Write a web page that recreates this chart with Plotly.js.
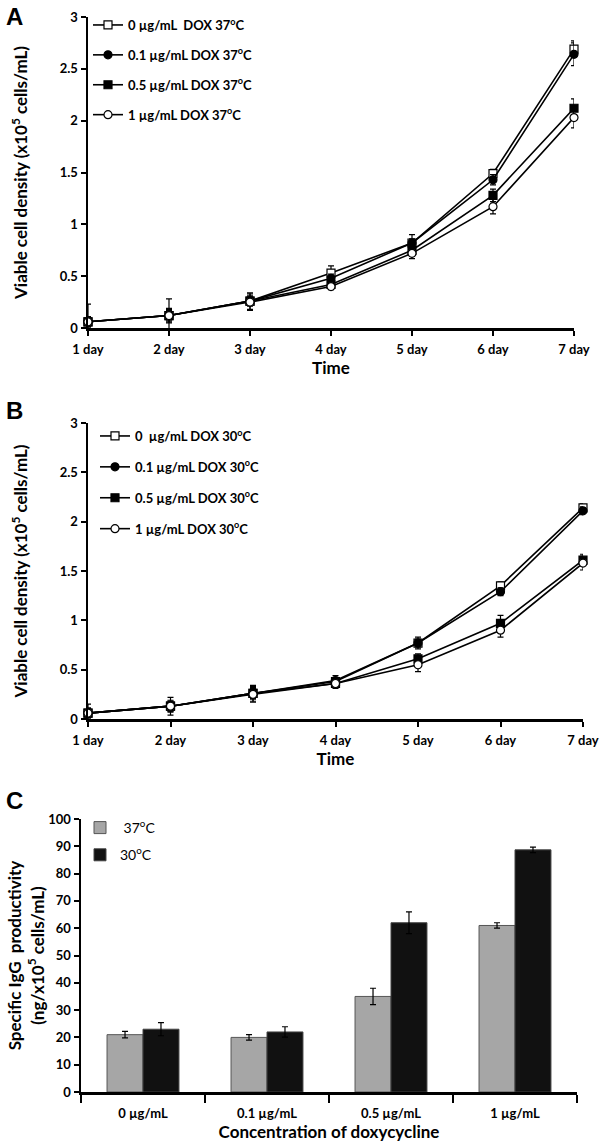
<!DOCTYPE html>
<html>
<head>
<meta charset="utf-8">
<script src="https://cdn.plot.ly/plotly-3.0.1.min.js"></script>
<style>html,body{margin:0;padding:0;background:#fff;}#chart{width:600px;height:1142px;}</style>
</head>
<body>
<div id="chart"></div>
<script>
// ---- data ----
const days = [1, 2, 3, 4, 5, 6, 7];
const dayLabels = ["1 day", "2 day", "3 day", "4 day", "5 day", "6 day", "7 day"];

// Panel A (37 °C)
const A_dox0   = [0.06, 0.12, 0.26, 0.53, 0.82, 1.49, 2.69];
const A_dox0_e = [0.17, 0.16, 0.08, 0.07, 0.08, 0.04, 0.08];
const A_dox01   = [0.06, 0.12, 0.26, 0.48, 0.82, 1.43, 2.64];
const A_dox01_e = [0.05, 0.05, 0.04, 0.04, 0.04, 0.05, 0.11];
const A_dox05   = [0.06, 0.12, 0.26, 0.42, 0.75, 1.28, 2.12];
const A_dox05_e = [0.05, 0.06, 0.05, 0.03, 0.08, 0.06, 0.09];
const A_dox1   = [0.06, 0.12, 0.25, 0.40, 0.72, 1.17, 2.03];
const A_dox1_e = [0.04, 0.07, 0.08, 0.03, 0.03, 0.07, 0.10];

// Panel B (30 °C)
const B_dox0   = [0.06, 0.13, 0.26, 0.38, 0.77, 1.35, 2.14];
const B_dox0_e = [0.09, 0.09, 0.08, 0.04, 0.06, 0.04, 0.04];
const B_dox01   = [0.06, 0.13, 0.26, 0.39, 0.77, 1.29, 2.11];
const B_dox01_e = [0.05, 0.05, 0.05, 0.05, 0.04, 0.04, 0.04];
const B_dox05   = [0.06, 0.13, 0.26, 0.36, 0.61, 0.97, 1.61];
const B_dox05_e = [0.04, 0.05, 0.06, 0.04, 0.05, 0.08, 0.06];
const B_dox1   = [0.06, 0.13, 0.25, 0.36, 0.55, 0.90, 1.58];
const B_dox1_e = [0.05, 0.06, 0.08, 0.05, 0.07, 0.07, 0.07];

// Panel C
const concLabels = ["0 µg/mL", "0.1 µg/mL", "0.5 µg/mL", "1 µg/mL"];
const C_37   = [21, 20, 35, 61];
const C_37_e = [1.2, 1.0, 3.0, 1.0];
const C_30   = [23, 22, 62, 88.7];
const C_30_e = [2.4, 1.9, 4.0, 1.0];

// ---- helpers ----
const FONT = "Lato, 'Open Sans', sans-serif";
const H = 1142, W = 600;
const px = v => v / W;
const py = v => 1 - v / H;

function lineTrace(y, e, name, symbol, hollow, xa, ya, leg, grp) {
  return {
    type: "scatter", mode: "lines+markers",
    x: days, y: y, name: name,
    xaxis: xa, yaxis: ya, legend: leg, legendgroup: grp,
    line: {color: "#000", width: 1.6},
    marker: {symbol: symbol, size: 8, color: hollow ? "#fff" : "#000",
             line: {color: "#000", width: 1.2}},
    error_y: {type: "data", array: e, visible: true, color: "#000", thickness: 1.2, width: 3},
    cliponaxis: false
  };
}

const traces = [
  lineTrace(A_dox0, A_dox0_e, "0 µg/mL\u00a0\u00a0DOX 37<sup>o</sup>C", "square", true, "x", "y", "legend", "a1"),
  lineTrace(A_dox01, A_dox01_e, "0.1 µg/mL DOX 37<sup>o</sup>C", "circle", false, "x", "y", "legend", "a2"),
  lineTrace(A_dox05, A_dox05_e, "0.5 µg/mL DOX 37<sup>o</sup>C", "square", false, "x", "y", "legend", "a3"),
  lineTrace(A_dox1, A_dox1_e, "1 µg/mL DOX 37<sup>o</sup>C", "circle", true, "x", "y", "legend", "a4"),
  lineTrace(B_dox0, B_dox0_e, "0\u00a0\u00a0µg/mL DOX 30<sup>o</sup>C", "square", true, "x2", "y2", "legend2", "b1"),
  lineTrace(B_dox01, B_dox01_e, "0.1 µg/mL DOX 30<sup>o</sup>C", "circle", false, "x2", "y2", "legend2", "b2"),
  lineTrace(B_dox05, B_dox05_e, "0.5 µg/mL DOX 30<sup>o</sup>C", "square", false, "x2", "y2", "legend2", "b3"),
  lineTrace(B_dox1, B_dox1_e, "1 µg/mL DOX 30<sup>o</sup>C", "circle", true, "x2", "y2", "legend2", "b4"),
  {
    type: "bar", x: concLabels, y: C_37, name: "\u00a037<sup>o</sup>C",
    xaxis: "x3", yaxis: "y3", legend: "legend3", legendgroup: "c1",
    marker: {color: "#a6a6a6", line: {color: "#555", width: 1}},
    error_y: {type: "data", array: C_37_e, visible: true, color: "#000", thickness: 1.2, width: 3}
  },
  {
    type: "bar", x: concLabels, y: C_30, name: "30<sup>o</sup>C",
    xaxis: "x3", yaxis: "y3", legend: "legend3", legendgroup: "c2",
    marker: {color: "#111111", line: {color: "#444", width: 1}},
    error_y: {type: "data", array: C_30_e, visible: true, color: "#000", thickness: 1.2, width: 3}
  }
];

const tickFont = {family: FONT, size: 13, color: "#000", weight: "bold"};
const titleFont = {family: FONT, size: 17, color: "#000", weight: "bold"};

function xAxisDays(domain, anchor) {
  return {
    domain: domain, anchor: anchor, range: [1, 7],
    tickmode: "array", tickvals: days, ticktext: dayLabels,
    showline: true, linecolor: "#000", linewidth: 2.5,
    ticks: "outside", ticklen: 5, tickwidth: 2, tickcolor: "#000", ticklabelstandoff: 3,
    showgrid: false, zeroline: false, tickfont: tickFont,
    title: {text: "Time", font: titleFont, standoff: 6}
  };
}
function yAxisDens(domain, anchor) {
  return {
    domain: domain, anchor: anchor, range: [0, 3], dtick: 0.5,
    showline: true, linecolor: "#000", linewidth: 2.5,
    ticks: "outside", ticklen: 5, tickwidth: 2, tickcolor: "#000",
    showgrid: false, zeroline: false, tickfont: tickFont,
    title: {text: "Viable cell density (x10<sup>5</sup> cells/mL)", font: titleFont, standoff: 28}
  };
}

const legBase = {
  bgcolor: "rgba(0,0,0,0)", borderwidth: 0, xanchor: "left", yanchor: "top",
  traceorder: "grouped", tracegroupgap: 10,
  font: {family: FONT, size: 13, color: "#000", weight: "bold"}
};

const layout = {
  width: W, height: H,
  margin: {l: 0, r: 0, t: 0, b: 0},
  paper_bgcolor: "#fff", plot_bgcolor: "#fff",
  showlegend: true,
  xaxis: xAxisDays([px(88), px(574)], "y"),
  yaxis: yAxisDens([py(328), py(17)], "x"),
  xaxis2: xAxisDays([px(88), px(583)], "y2"),
  yaxis2: yAxisDens([py(719), py(423)], "x2"),
  xaxis3: {
    domain: [px(81), px(577)], anchor: "y3",
    showline: true, linecolor: "#000", linewidth: 2.5,
    ticks: "outside", ticklen: 8, tickwidth: 2, tickcolor: "#000", tickson: "boundaries",
    ticklabelstandoff: 8,
    showgrid: false, zeroline: false, tickfont: tickFont,
    title: {text: "Concentration of doxycycline", font: titleFont, standoff: 2}
  },
  yaxis3: {
    domain: [py(1092), py(819)], anchor: "x3", range: [0, 100], dtick: 10,
    showline: true, linecolor: "#000", linewidth: 2.5,
    ticks: "outside", ticklen: 5, tickwidth: 2, tickcolor: "#000",
    showgrid: false, zeroline: false, tickfont: tickFont,
    title: {text: "Specific IgG\u00a0\u00a0productivity<br>(ng/x10<sup>5</sup> cells/mL)", font: {family: FONT, size: 17, color: "#000", weight: "bold"}, standoff: 0}
  },
  barmode: "group", bargap: 0.42, bargroupgap: 0,
  legend: Object.assign({}, legBase, {x: px(88), y: py(10)}),
  legend2: Object.assign({}, legBase, {x: px(95), y: py(421), tracegroupgap: 11}),
  legend3: Object.assign({}, legBase, {x: px(80), y: py(812), tracegroupgap: 6,
    font: {family: FONT, size: 14, color: "#000"}}),
  annotations: [
    {text: "A", x: px(4), y: py(1), xref: "paper", yref: "paper", xanchor: "left", yanchor: "top", showarrow: false,
     font: {family: "'Liberation Sans', Arial, sans-serif", size: 24, color: "#000", weight: "bold"}},
    {text: "B", x: px(4), y: py(395), xref: "paper", yref: "paper", xanchor: "left", yanchor: "top", showarrow: false,
     font: {family: "'Liberation Sans', Arial, sans-serif", size: 24, color: "#000", weight: "bold"}},
    {text: "C", x: px(4), y: py(785), xref: "paper", yref: "paper", xanchor: "left", yanchor: "top", showarrow: false,
     font: {family: "'Liberation Sans', Arial, sans-serif", size: 24, color: "#000", weight: "bold"}}
  ]
};

Plotly.newPlot("chart", traces, layout, {displayModeBar: false, staticPlot: true});
</script>
</body>
</html>
